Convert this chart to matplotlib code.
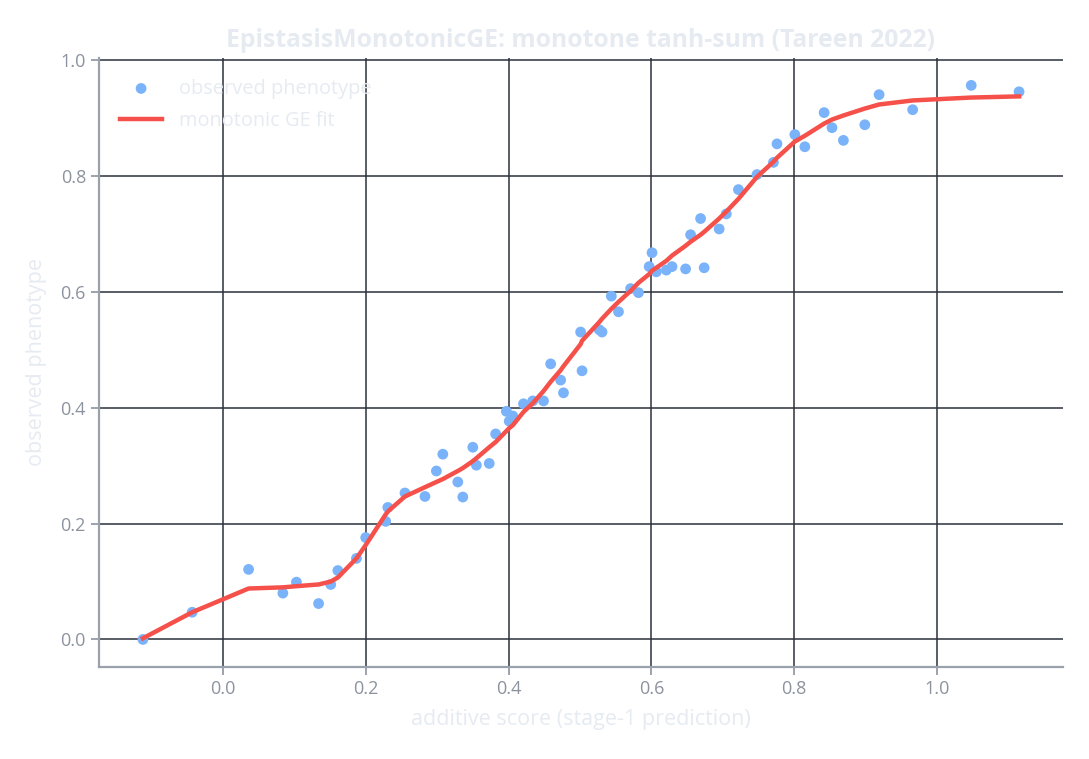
import matplotlib

matplotlib.use("Agg")
import matplotlib.pyplot as plt

# additive score (stage-1 prediction), observed phenotype, monotonic GE fit
additive_score = [
    -0.112, -0.043, 0.036, 0.084, 0.103, 0.134, 0.151, 0.161, 0.187, 0.200,
    0.228, 0.231, 0.255, 0.283, 0.299, 0.308, 0.329, 0.336, 0.350, 0.355,
    0.373, 0.382, 0.397, 0.401, 0.406, 0.421, 0.434, 0.449, 0.459, 0.473,
    0.477, 0.501, 0.503, 0.527, 0.531, 0.544, 0.554, 0.571, 0.582, 0.597,
    0.601, 0.607, 0.621, 0.629, 0.648, 0.655, 0.669, 0.674, 0.695, 0.705,
    0.722, 0.748, 0.771, 0.776, 0.801, 0.815, 0.842, 0.853, 0.869, 0.899,
    0.919, 0.966, 1.048, 1.115,
]
observed = [
    0.000, 0.047, 0.121, 0.080, 0.099, 0.062, 0.095, 0.119, 0.140, 0.176,
    0.204, 0.228, 0.253, 0.247, 0.291, 0.320, 0.272, 0.246, 0.332, 0.301,
    0.304, 0.355, 0.394, 0.377, 0.386, 0.407, 0.412, 0.412, 0.476, 0.448,
    0.426, 0.531, 0.464, 0.535, 0.531, 0.593, 0.566, 0.606, 0.599, 0.644,
    0.668, 0.635, 0.638, 0.644, 0.640, 0.699, 0.727, 0.642, 0.709, 0.735,
    0.777, 0.803, 0.824, 0.856, 0.872, 0.851, 0.910, 0.884, 0.862, 0.889,
    0.941, 0.915, 0.957, 0.946,
]
ge_fit = [
    0.002, 0.047, 0.088, 0.090, 0.092, 0.095, 0.100, 0.107, 0.140, 0.163,
    0.216, 0.221, 0.247, 0.263, 0.272, 0.277, 0.291, 0.296, 0.308, 0.313,
    0.332, 0.341, 0.360, 0.365, 0.370, 0.393, 0.408, 0.429, 0.445, 0.465,
    0.472, 0.510, 0.516, 0.548, 0.554, 0.571, 0.583, 0.602, 0.616, 0.631,
    0.637, 0.642, 0.654, 0.663, 0.680, 0.687, 0.699, 0.704, 0.727, 0.739,
    0.761, 0.799, 0.825, 0.832, 0.860, 0.870, 0.891, 0.898, 0.905, 0.917,
    0.924, 0.931, 0.936, 0.938,
]

LIGHT = "#e6ebf2"
TICK = "#8c939e"
SPINE = "#9aa1aa"
GRID = "#2b303a"

plt.rcParams["font.family"] = ["Open Sans", "DejaVu Sans"]

fig = plt.figure(figsize=(10.89, 7.59), dpi=100)
ax = fig.add_axes([0.091, 0.121, 0.885, 0.803])

ax.scatter(additive_score, observed, s=60, color="#7ab3fa", edgecolors="none",
           label="observed phenotype", zorder=3)
ax.plot(additive_score, ge_fit, color="#f5504a", lw=3.2, label="monotonic GE fit",
        zorder=4)

ax.grid(True, color=GRID, lw=1.1)
ax.set_axisbelow(True)
for side in ("top", "right"):
    ax.spines[side].set_visible(False)
for side in ("left", "bottom"):
    ax.spines[side].set_color(SPINE)
    ax.spines[side].set_linewidth(1.6)
ax.tick_params(colors=TICK, labelcolor=TICK, labelsize=13, length=6, width=1.2)

ax.set_xlabel("additive score (stage-1 prediction)", color=LIGHT, fontsize=15.5,
              labelpad=8)
ax.set_ylabel("observed phenotype", color=LIGHT, fontsize=15.5, labelpad=10)
ax.set_title("EpistasisMonotonicGE: monotone tanh-sum (Tareen 2022)", color=LIGHT,
             fontsize=17.8, fontweight="bold", pad=8)

leg = ax.legend(loc="upper left", frameon=False, fontsize=14.4, handlelength=2.1,
                handletextpad=0.85, labelspacing=0.6, borderaxespad=0.65)
for t in leg.get_texts():
    t.set_color(LIGHT)

fig.savefig("out.png", dpi=100)
